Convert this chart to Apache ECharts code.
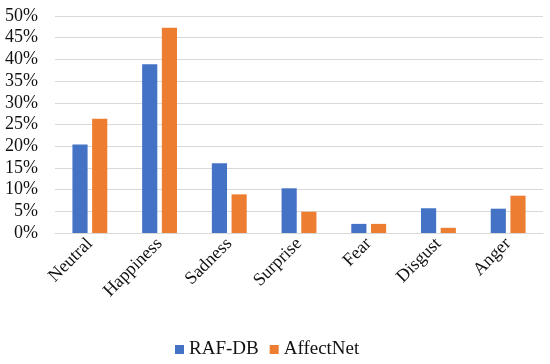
<!DOCTYPE html>
<html>
<head>
<meta charset="utf-8">
<script src="https://cdn.jsdelivr.net/npm/echarts@6/dist/echarts.min.js"></script>
<style>html,body{margin:0;padding:0;background:#fff;}#c{width:550px;height:364px;}</style>
</head>
<body>
<div id="c"></div>
<script>
const categories = ['Neutral', 'Happiness', 'Sadness', 'Surprise', 'Fear', 'Disgust', 'Anger'];
const rafdb = [20.4, 38.9, 16.1, 10.3, 2.1, 5.7, 5.6];
const affectnet = [26.3, 47.3, 8.9, 4.9, 2.1, 1.2, 8.6];
const font = 'Liberation Serif, Times New Roman, serif';
const chart = echarts.init(document.getElementById('c'));
chart.setOption({
  animation: false,
  grid: {left: 55, right: 7, top: 16, bottom: 131, containLabel: false},
  legend: {
    bottom: 0, left: 170, icon: 'rect', itemWidth: 9, itemHeight: 9, itemGap: 11,
    textStyle: {fontFamily: font, fontSize: 19, color: '#111'},
    data: ['RAF-DB', 'AffectNet']
  },
  xAxis: {
    type: 'category', data: categories,
    axisLine: {lineStyle: {color: '#d9d9d9', width: 1}},
    axisTick: {show: false},
    axisLabel: {rotate: 45, margin: 8, fontFamily: font, fontSize: 18, color: '#111', interval: 0}
  },
  yAxis: {
    type: 'value', min: 0, max: 50, interval: 5,
    axisLine: {show: false}, axisTick: {show: false},
    splitLine: {lineStyle: {color: '#d9d9d9', width: 1}},
    axisLabel: {formatter: '{value}%', margin: 17, fontFamily: font, fontSize: 18, color: '#111'}
  },
  series: [
    {name: 'RAF-DB', type: 'bar', data: rafdb, itemStyle: {color: '#4472C4'}, barGap: '30%', barCategoryGap: '50%'},
    {name: 'AffectNet', type: 'bar', data: affectnet, itemStyle: {color: '#ED7D31'}}
  ]
});
</script>
</body>
</html>
